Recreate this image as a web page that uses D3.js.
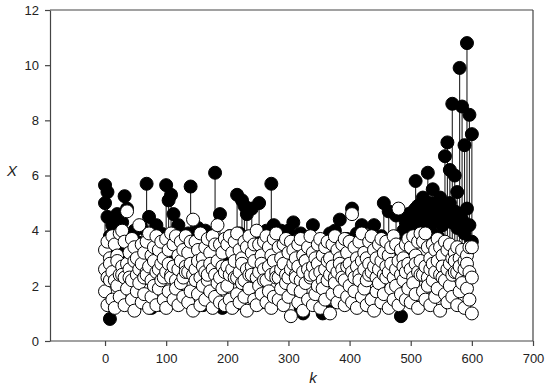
<!DOCTYPE html>
<html>
<head>
<meta charset="utf-8">
<script src="https://cdn.jsdelivr.net/npm/d3@7"></script>
<style>
	body { margin: 0; background: #fff; }
	text { font-family: "Liberation Sans", Arial, sans-serif; }
</style>
</head>
<body>
<div id="dataviz_area"></div>
<script>
// sample index k (every 4th sample)
const kValues = [
	0,4,8,12,16,20,24,28,32,36,40,44,48,52,56,60,64,68,72,76,80,84,88,92,96,
	100,104,108,112,116,120,124,128,132,136,140,144,148,152,156,160,164,168,172,176,180,184,188,192,196,
	200,204,208,212,216,220,224,228,232,236,240,244,248,252,256,260,264,268,272,276,280,284,288,292,296,
	300,304,308,312,316,320,324,328,332,336,340,344,348,352,356,360,364,368,372,376,380,384,388,392,396,
	400,404,408,412,416,420,424,428,432,436,440,444,448,452,456,460,464,468,472,476,480,484,488,492,496,
	500,504,508,512,516,520,524,528,532,536,540,544,548,552,556,560,564,568,572,576,580,584,588,592,596,600
];

// black (filled) points, upper
const xBlack = [
	5.65,5.4,0.8,4.2,3.6,4.6,3.5,4.3,5.25,4.8,3.4,3.7,4.0,3.6,3.2,4.1,3.5,5.7,4.5,1.2,3.6,4.2,3.3,3.9,3.4,
	5.65,5.1,5.3,4.6,3.5,4.2,3.3,3.7,3.4,3.9,5.6,3.8,3.5,4.1,3.6,1.3,4.0,3.4,3.8,3.5,6.1,3.6,4.6,1.2,3.5,
	3.4,3.8,3.2,3.6,5.3,3.9,5.1,4.9,4.6,3.5,4.8,3.3,3.7,5.0,3.6,3.3,4.0,3.2,5.7,4.2,3.5,3.3,4.0,3.2,3.6,
	4.0,3.4,4.3,3.2,3.5,3.9,1.0,3.3,3.5,3.2,4.2,3.3,3.6,3.4,1.0,3.3,3.2,3.9,3.4,4.0,3.3,4.4,3.6,3.4,3.7,
	3.5,4.8,3.6,3.9,3.3,4.2,3.6,3.4,3.8,3.3,4.2,3.6,3.4,3.8,5.0,3.5,4.7,3.6,3.4,4.55,3.7,0.9,4.0,4.3,4.6,
	4.3,4.7,5.8,4.9,4.4,5.2,4.6,6.1,5.0,5.5,4.9,4.5,5.2,4.8,6.7,7.2,6.2,8.6,6.0,5.4,9.9,8.5,7.1,10.8,8.2,7.5
];

// black (filled) points, second set
const xBlack2 = [
	5.0,4.5,3.8,3.3,2.9,3.6,3.9,3.1,3.7,3.8,2.6,3.5,3.2,2.8,3.4,1.4,3.0,3.3,2.9,3.2,2.5,3.0,2.8,1.3,3.1,
	3.2,3.0,2.8,3.3,2.7,3.1,1.5,3.0,2.9,2.8,3.4,3.0,2.7,3.2,2.6,3.0,3.3,1.4,2.9,3.1,3.4,2.8,3.0,3.2,2.7,
	3.0,2.7,3.1,1.3,3.2,2.8,3.3,3.0,2.7,3.1,2.9,2.5,3.2,3.0,1.4,3.1,2.8,3.2,2.9,2.7,3.3,3.0,2.8,2.6,3.1,
	2.9,2.7,3.1,3.0,2.6,1.2,3.0,2.8,3.1,2.7,3.0,2.6,2.9,3.1,2.7,2.9,1.1,3.0,2.8,3.0,2.6,3.1,2.9,2.7,3.0,
	3.0,3.3,2.8,3.1,2.9,2.7,3.2,1.3,3.0,2.8,3.2,2.9,2.7,3.1,3.6,3.4,3.0,3.3,2.9,2.8,3.7,3.1,3.5,3.8,3.4,
	4.5,4.0,4.8,4.2,3.9,4.6,4.3,4.9,4.1,4.7,4.4,3.8,4.6,4.2,4.9,4.5,5.0,4.3,4.7,4.1,4.6,4.4,3.9,4.8,4.2,3.6
];

// open (white) points, top of band
const xWhite = [
	3.3,3.6,3.0,3.8,3.5,3.1,3.9,4.0,3.6,4.7,3.2,3.7,3.4,3.0,4.2,3.5,3.2,3.6,3.9,3.1,3.4,3.8,3.3,3.6,3.0,
	3.7,3.3,3.9,3.5,3.8,3.1,3.6,3.3,3.8,3.2,3.6,4.4,3.6,3.3,3.9,3.0,3.4,3.7,3.2,3.8,3.5,4.2,3.5,3.2,3.7,
	3.5,3.8,3.2,3.6,3.9,3.3,3.0,3.6,3.4,3.8,3.2,3.5,4.0,3.5,3.1,3.6,3.8,3.4,3.1,3.7,3.9,3.4,3.0,3.5,3.7,
	3.2,3.6,3.3,3.0,3.5,3.7,3.1,2.9,3.4,3.8,3.2,3.0,3.5,3.7,3.1,3.4,3.6,3.0,3.5,3.8,3.3,3.0,3.5,3.7,3.2,
	3.6,4.6,3.4,3.0,3.6,3.9,3.2,3.0,3.6,3.8,3.3,3.0,3.5,3.7,3.2,3.6,3.1,3.4,3.8,3.5,4.8,3.3,3.0,3.5,3.7,
	3.4,3.8,3.1,3.6,3.9,3.6,3.9,3.4,3.0,3.5,3.3,3.7,3.4,3.1,3.6,3.3,3.5,3.0,3.2,3.4,3.0,3.3,2.9,3.1,3.4,3.4
];

// open (white) points, middle of band
const xWhite3 = [
	2.6,2.3,2.8,2.5,2.2,2.9,2.4,2.7,2.3,2.8,2.6,2.2,2.9,2.4,2.6,2.8,2.3,2.5,2.7,2.2,2.9,2.5,2.6,2.8,2.3,
	2.5,2.8,2.4,2.7,2.2,2.6,2.9,2.3,2.7,2.5,2.8,2.4,2.6,2.9,2.3,2.7,2.5,2.2,2.8,2.6,2.4,2.9,2.3,2.7,2.5,
	2.7,2.4,2.6,2.9,2.3,2.5,2.8,2.2,2.6,2.4,2.7,2.9,2.3,2.5,2.8,2.6,2.2,2.7,2.4,2.9,2.5,2.3,2.6,2.8,2.4,
	2.3,2.6,2.8,2.4,2.7,2.2,2.5,2.9,2.6,2.3,2.7,2.4,2.8,2.5,2.2,2.6,2.9,2.4,2.7,2.3,2.5,2.8,2.6,2.2,2.7,
	2.8,2.5,2.3,2.7,2.4,2.9,2.6,2.2,2.8,2.5,2.7,2.3,2.6,2.9,2.4,2.7,2.5,2.8,2.3,2.6,2.9,2.4,2.7,2.5,2.8,
	2.6,2.3,2.8,2.5,2.9,2.4,2.7,2.3,2.6,2.8,2.5,2.9,2.4,2.7,2.2,2.6,2.8,2.4,2.9,2.5,2.7,2.3,2.6,2.8,2.5,2.3
];

// open (white) points, bottom of band
const xWhite2 = [
	1.8,1.3,2.2,1.5,1.2,2.0,1.6,2.4,1.3,1.9,2.3,1.5,1.1,1.8,2.1,1.4,1.7,2.4,1.2,1.6,2.0,1.3,1.9,2.2,1.5,
	1.2,1.8,2.3,1.5,1.9,1.3,2.1,1.6,2.5,1.4,1.8,1.1,2.2,1.7,1.3,2.0,1.5,2.4,1.8,1.2,1.6,2.1,1.4,1.9,1.3,
	2.0,1.5,1.2,2.3,1.7,1.4,2.1,1.6,1.1,1.9,2.4,1.5,1.3,2.0,1.7,2.2,1.4,1.8,1.2,1.6,2.3,1.5,1.9,1.3,2.1,
	1.6,0.9,1.9,2.3,1.4,1.8,1.1,2.1,1.5,2.4,1.3,1.7,2.0,1.2,1.9,1.5,2.2,1.0,1.7,2.1,1.4,1.8,2.3,1.3,1.6,
	2.0,1.4,1.8,1.2,2.2,1.6,1.9,1.3,2.4,1.5,1.1,1.8,2.1,1.4,1.7,2.3,1.2,1.9,1.5,2.0,1.3,1.7,2.2,1.5,1.9,
	1.4,2.1,1.7,1.2,2.4,1.8,1.5,2.0,1.3,2.2,1.6,1.9,1.1,2.3,1.7,1.4,2.0,1.6,2.5,1.3,1.8,2.1,1.2,1.9,1.5,1.0
];

const xTicks = [0, 100, 200, 300, 400, 500, 600, 700];
const yTicks = [0, 2, 4, 6, 8, 10, 12];

let canvas_width = 550;
let canvas_height = 390;
make_chart();

function make_chart() {
	const margin = {top: 10, right: 17, bottom: 49, left: 50},
		graph_width = canvas_width - margin.left - margin.right,
		graph_height = canvas_height - margin.top - margin.bottom;

	const svg = d3.select("#dataviz_area")
		.append("svg")
			.attr("width", canvas_width)
			.attr("height", canvas_height)
		.append("g")
			.attr("transform", "translate(" + margin.left + "," + margin.top + ")");

	const x = d3.scaleLinear()
		.domain([-90, 700])
		.range([0, graph_width]);

	const y = d3.scaleLinear()
		.domain([0, 12])
		.range([graph_height, 0]);

	// frame: top and right lines
	svg.append("line")
		.attr("x1", 0).attr("x2", graph_width)
		.attr("y1", 0).attr("y2", 0)
		.attr("stroke", "#444").attr("stroke-width", 1.2);
	svg.append("line")
		.attr("x1", graph_width).attr("x2", graph_width)
		.attr("y1", 0).attr("y2", graph_height)
		.attr("stroke", "#444").attr("stroke-width", 1.2);

	// one row per k
	const rows = kValues.map((k, i) => ({
		k: k,
		blacks: [xBlack[i], xBlack2[i]],
		whites: [xWhite[i], xWhite3[i], xWhite2[i]]
	}));

	// stems from the highest black point down to the top of the white band
	const stems = rows.filter(d => d3.max(d.blacks) > d3.max(d.whites));
	svg.append("g")
		.selectAll("line")
		.data(stems)
		.join("line")
			.attr("x1", d => x(d.k))
			.attr("x2", d => x(d.k))
			.attr("y1", d => y(d3.max(d.blacks)))
			.attr("y2", d => y(d3.max(d.whites)))
			.attr("stroke", "#222")
			.attr("stroke-width", 1.1);

	const r = 6.5;

	// black points
	const blackPts = rows.flatMap(d => d.blacks.map(v => ({k: d.k, v: v})));
	svg.append("g")
		.selectAll("circle")
		.data(blackPts)
		.join("circle")
			.attr("cx", d => x(d.k))
			.attr("cy", d => y(d.v))
			.attr("r", r)
			.attr("fill", "#000")
			.attr("stroke", "#000")
			.attr("stroke-width", 1);

	// white points
	const whitePts = rows.flatMap(d => d.whites.map(v => ({k: d.k, v: v})));
	svg.append("g")
		.selectAll("circle")
		.data(whitePts)
		.join("circle")
			.attr("cx", d => x(d.k))
			.attr("cy", d => y(d.v))
			.attr("r", r)
			.attr("fill", "#fff")
			.attr("stroke", "#000")
			.attr("stroke-width", 1);

	// x axis
	const xAxis = svg.append("g")
		.attr("transform", "translate(0," + graph_height + ")")
		.call(d3.axisBottom(x).tickValues(xTicks).tickSize(5).tickPadding(8).tickSizeOuter(0));

	// y axis
	const yAxis = svg.append("g")
		.call(d3.axisLeft(y).tickValues(yTicks).tickSize(5).tickPadding(6).tickSizeOuter(0));

	[xAxis, yAxis].forEach(a => {
		a.select(".domain").attr("stroke", "#444").attr("stroke-width", 1.2);
		a.selectAll(".tick line").attr("stroke", "#444").attr("stroke-width", 1.2);
		a.selectAll(".tick text")
			.attr("fill", "#222")
			.style("font-size", "13px")
			.style("font-family", "'Liberation Sans', Arial, sans-serif");
	});
	// the x axis line spans the whole plot
	xAxis.select(".domain").attr("d", "M0,0H" + graph_width);

	// axis titles
	svg.append("text")
		.attr("x", -38)
		.attr("y", 166)
		.attr("text-anchor", "middle")
		.style("font-size", "15px")
		.style("font-style", "italic")
		.attr("fill", "#222")
		.text("X");

	svg.append("text")
		.attr("x", x(340))
		.attr("y", graph_height + 42)
		.attr("text-anchor", "middle")
		.style("font-size", "15px")
		.style("font-style", "italic")
		.attr("fill", "#222")
		.text("k");
}
</script>
</body>
</html>
